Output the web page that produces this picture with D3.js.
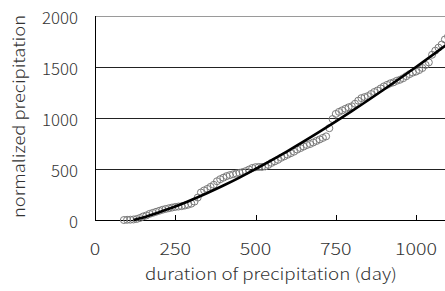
<!DOCTYPE html>
<html><head><meta charset="utf-8">
<script src="https://cdn.jsdelivr.net/npm/d3@7"></script>
<style>body{margin:0;background:#fff}svg{display:block}text{font-family:"Noto Sans CJK JP","DejaVu Sans",sans-serif;font-weight:300;fill:#333}</style>
</head><body><svg id="c" width="445" height="291"></svg>
<script>
const obsDays = [90,100,110,120,130,140,150,160,170,180,190,200,210,220,230,240,250,260,270,280,290,300,310,320,330,340,350,360,370,380,390,400,410,420,430,440,450,460,470,480,490,500,510,520,530,540,550,560,570,580,590,600,610,620,630,640,650,660,670,680,690,700,710,720,730,740,750,760,770,780,790,800,810,820,830,840,850,860,870,880,890,900,910,920,930,940,950,960,970,980,990,1000,1010,1020,1030,1040,1050,1060,1070,1080,1090,1100];
const obsPrecip = [0,2,3,5,10,20,35,45,60,70,80,90,100,108,115,122,128,132,136,142,150,160,180,220,270,290,305,325,345,380,400,415,430,440,448,455,462,470,480,495,510,518,520,520,525,540,560,575,590,610,625,640,655,670,690,705,720,735,745,760,775,790,805,820,900,990,1040,1060,1075,1090,1105,1115,1140,1170,1195,1205,1215,1235,1255,1270,1290,1310,1325,1340,1350,1365,1375,1390,1410,1430,1445,1455,1470,1490,1520,1545,1620,1660,1690,1720,1770,1800];
const fitDays = [120,150,200,250,300,350,400,450,500,600,700,800,900,1000,1100];
const fitPrecip = [0,25,76,132,196,265,338,416,500,676,866,1067,1279,1500,1730];
const xTicks = [0,250,500,750,1000];
const yTicks = [0,500,1000,1500,2000];

const svg = d3.select("#c");
const x = d3.scaleLinear().domain([0,1000]).range([95,416]);
const y = d3.scaleLinear().domain([0,2000]).range([220,16]);
const R = 445;

svg.append("defs").append("clipPath").attr("id","clip").append("rect")
  .attr("x",95).attr("y",0).attr("width",R-95).attr("height",230);

svg.append("g").selectAll("line").data(yTicks.filter(d=>d>0)).join("line")
  .attr("x1",95).attr("x2",R).attr("y1",d=>Math.round(y(d))+0.5).attr("y2",d=>Math.round(y(d))+0.5)
  .attr("stroke",d=>d===2000?"#9a9a9a":"#222").attr("stroke-width",1);

svg.append("line").attr("x1",95.5).attr("x2",95.5).attr("y1",Math.round(y(2000))).attr("y2",220.5).attr("stroke","#000");
svg.append("line").attr("x1",95).attr("x2",R).attr("y1",220.5).attr("y2",220.5).attr("stroke","#000");
svg.append("g").selectAll("line").data(xTicks.filter(d=>d>0)).join("line")
  .attr("x1",d=>Math.round(x(d))+0.5).attr("x2",d=>Math.round(x(d))+0.5).attr("y1",215).attr("y2",220)
  .attr("stroke","#000");

const plot = svg.append("g").attr("clip-path","url(#clip)");
plot.append("g").selectAll("circle").data(obsDays.map((d,i)=>[d,obsPrecip[i]])).join("circle")
  .attr("cx",d=>x(d[0])).attr("cy",d=>y(d[1])).attr("r",3.5)
  .attr("fill","none").attr("stroke","#7a7a7a").attr("stroke-width",1);
plot.append("path").datum(fitDays.map((d,i)=>[d,fitPrecip[i]]))
  .attr("d",d3.line().x(d=>x(d[0])).y(d=>y(d[1])).curve(d3.curveMonotoneX))
  .attr("fill","none").attr("stroke","#000").attr("stroke-width",2.6);

svg.append("g").selectAll("text").data(yTicks).join("text")
  .attr("x",78).attr("y",d=>y(d)+7.5).attr("text-anchor","end").attr("font-size",16)
  .attr("textLength",d=>String(d).length*9).attr("lengthAdjust","spacingAndGlyphs")
  .text(d=>d);
svg.append("g").selectAll("text").data(xTicks).join("text")
  .attr("x",d=>x(d)).attr("y",255).attr("text-anchor","middle").attr("font-size",16)
  .attr("textLength",d=>String(d).length*10.5).attr("lengthAdjust","spacingAndGlyphs")
  .text(d=>d);

svg.append("text").attr("x",145).attr("y",280).attr("font-size",16)
  .attr("textLength",252).attr("lengthAdjust","spacingAndGlyphs")
  .text("duration of precipitation (day)");
svg.append("text").attr("transform","translate(25,218) rotate(-90)").attr("x",0).attr("y",0).attr("font-size",16)
  .attr("textLength",203).attr("lengthAdjust","spacingAndGlyphs")
  .text("normalized precipitation");
</script></body></html>
